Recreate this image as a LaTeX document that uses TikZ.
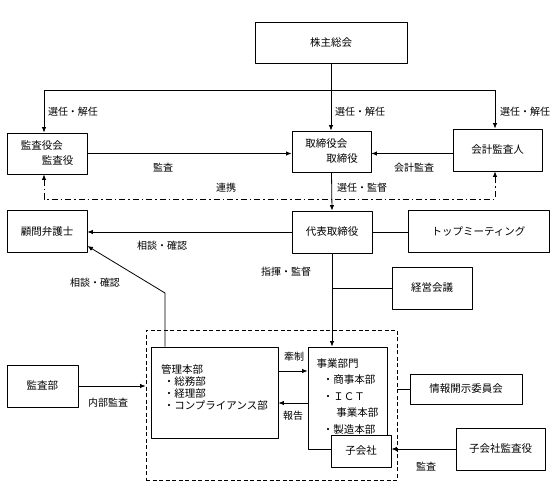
\documentclass[tikz,border=0pt]{standalone}
\usepackage{fontspec}
\setmainfont{Noto Sans CJK JP}
\usetikzlibrary{arrows.meta}
\tikzset{
  box/.style={draw, line width=0.9pt, inner sep=2pt, font=\fontsize{10.5}{13}\selectfont},
  sz/.style 2 args={minimum width=#1pt, minimum height=#2pt},
  lbl/.style={inner sep=0pt, font=\fontsize{10}{12}\selectfont},
  dashdot/.style={dash pattern=on 6pt off 3pt on 1.5pt off 3pt},
}
\begin{document}
\begin{tikzpicture}[x=1pt, y=-1pt, line width=0.8pt, line join=round, >={Latex[length=5.5pt,width=4.5pt]}]
\useasboundingbox (0,0) rectangle (560,496);
% boxes
\node[box, sz={152}{41}] (kabu) at (331,42.5) {株主総会};
\node[box, sz={80}{41}, align=left, font=\fontsize{10.5}{15}\selectfont] (kansayaku) at (47,153.5) {監査役会\\\hspace*{2em}監査役};
\node[box, sz={79}{41}, align=left, font=\fontsize{10.5}{15}\selectfont] (torishimari) at (331.5,151.5) {取締役会\\\hspace*{2em}取締役};
\node[box, sz={89}{42}] (kaikei) at (497.5,150) {会計監査人};
\node[box, sz={80}{42}] (bengoshi) at (47,231) {顧問弁護士};
\node[box, sz={80}{42}] (daihyo) at (332,232) {代表取締役};
\node[box, sz={141}{42}] (top) at (478.5,231) {トップミーティング};
\node[box, sz={80}{42}] (keiei) at (432,288) {経営会議};
\node[draw, dashed, dash pattern=on 4pt off 2.5pt, line width=0.9pt, sz={251}{150}] (group) at (271.5,405) {};
\node[box, sz={127}{91}, align=left, font=\fontsize{10.5}{12}\selectfont] (kanri) at (214.5,392.5)
  {管理本部\\\hspace*{0.25em}・総務部\\\hspace*{0.25em}・経理部\\\hspace*{0.25em}・コンプライアンス部\\[-2pt]\mbox{}};
\node[box, sz={79}{102}, align=left, font=\fontsize{10.5}{16.5}\selectfont] (jigyo) at (347.5,398)
  {事業部門\\\hspace*{0.6em}・商事本部\\\hspace*{0.6em}・ＩＣＴ\\\hspace*{1.9em}事業本部\\\hspace*{0.6em}・製造本部\\[-12pt]\mbox{}};
\node[box, fill=white, sz={60}{32}] (kogaisha) at (361,451) {子会社};
\node[box, sz={71}{42}] (kansabu) at (42.5,386) {監査部};
\node[box, sz={112}{30}] (johokaiji) at (466,389) {情報開示委員会};
\node[box, sz={89}{42}] (kogaishakansa) at (500.5,449) {子会社監査役};
% connectors
\coordinate (busL) at (44,90);
\coordinate (busR) at (495,90);
\coordinate (renkei) at (44,199);
\coordinate (bend) at (165,293);
\draw (busL) -- (busR);
\draw[->] (kabu.south) -- (kabu.south |- torishimari.north);
\draw[->] (busL) -- (busL |- kansayaku.north);
\draw[->] (busR) -- (busR |- kaikei.north);
\draw[->] (kansayaku.east) -- (kansayaku.east -| torishimari.west);
\draw[->] (kaikei.west |- kansayaku.east) -- (torishimari.east |- kansayaku.east);
\draw[<->, dashdot] (busL |- kansayaku.south) -- (renkei) -| (busR |- kaikei.south);
\draw[->] (torishimari.south) -- (daihyo.north);
\draw[->] (daihyo.west) -- (daihyo.west -| bengoshi.east);
\draw (daihyo.east) -- (daihyo.east -| top.west);
\draw[->] (daihyo.south) -- (daihyo.south |- jigyo.north);
\draw (daihyo.south |- keiei.west) -- (keiei.west);
\draw[->] (bend |- kanri.north) -- (bend) -- ([yshift=-15pt]bengoshi.east);
\path (kanri.east) ++(0,-21.5) coordinate (k1) (kanri.east) ++(0,10.5) coordinate (k2);
\draw[->] (k1) -- (k1 -| jigyo.west);
\draw[->] (k2 -| jigyo.west) -- (k2);
\draw[->] (kansabu.east) -- (kansabu.east -| group.west);
\draw (group.east |- johokaiji.west) -- (johokaiji.west);
\draw[->] (kogaishakansa.west) -- (kogaishakansa.west -| kogaisha.east);
% labels
\node[lbl] (s1) at (73,112) {選任・解任};
\node[lbl] (s2) at (360,112) {選任・解任};
\node[lbl] (s3) at (525,112) {選任・解任};
\node[lbl] (kansa1) at (163,168) {監査};
\node[lbl] (kaikeikansa) at (414,168) {会計監査};
\node[lbl] (renkeil) at (226,188) {連携};
\node[lbl] (senkan) at (362,188) {選任・監督};
\node[lbl] (sodan1) at (162,246) {相談・確認};
\node[lbl] (sodan2) at (95,283) {相談・確認};
\node[lbl] (shiki) at (286,272) {指揮・監督};
\node[lbl] (kensei) at (294,357) {牽制};
\node[lbl] (hokoku) at (293,416) {報告};
\node[lbl] (naibu) at (108,403) {内部監査};
\node[lbl] (kansa2) at (426,467) {監査};
\end{tikzpicture}
\end{document}
